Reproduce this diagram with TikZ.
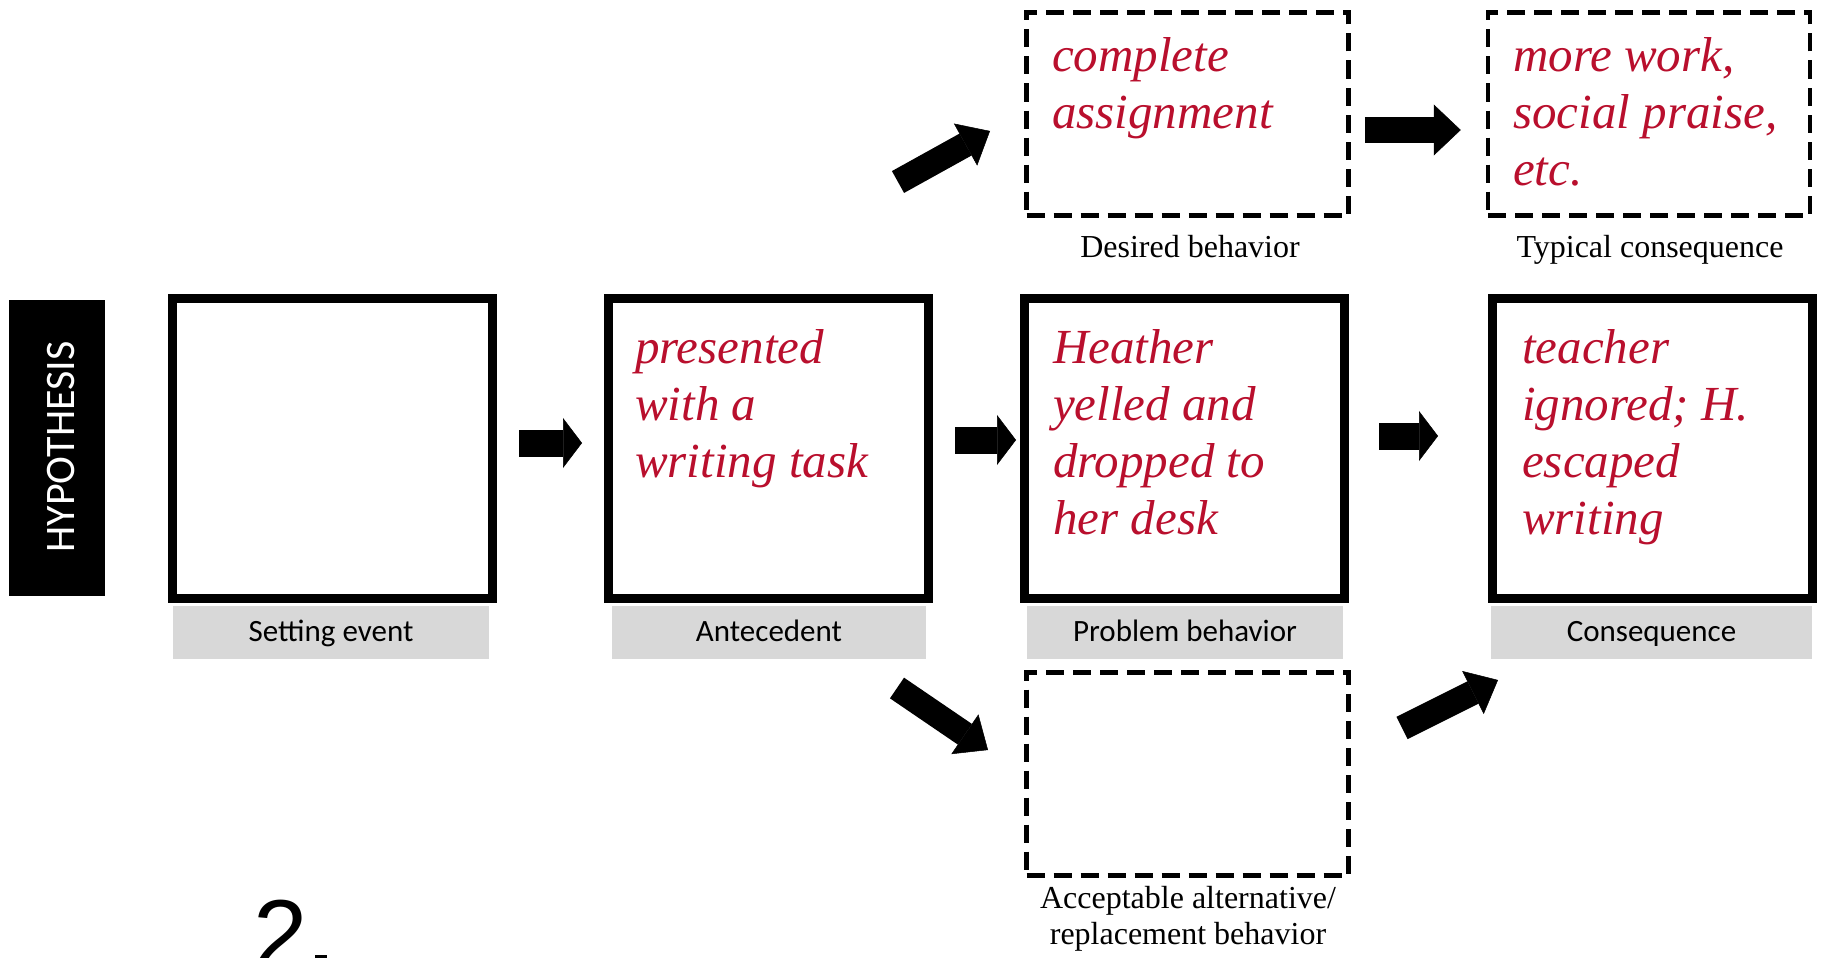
\documentclass[tikz,border=0pt]{standalone}
\usepackage{fontspec}
\setmainfont{Liberation Serif}
\newfontfamily\labelfont{Carlito}
\newfontfamily\digitfont{Liberation Sans}
\usetikzlibrary{arrows.meta}
\definecolor{notered}{RGB}{185,15,45}
\definecolor{labelgray}{RGB}{216,216,216}

\begin{document}
\begin{tikzpicture}[x=1pt,y=-1pt,
  mainbox/.style={draw=black, line width=9pt, minimum width=320pt, minimum height=300pt, inner sep=0pt},
  optbox/.style={draw=black, line width=4.5pt, dash pattern=on 18pt off 9pt, minimum width=322pt, minimum height=203pt, inner sep=0pt},
  entry/.style={anchor=north west, inner sep=0pt, align=left, text=notered, font=\itshape\fontsize{49}{57}\selectfont},
  tag/.style={fill=labelgray, inner sep=0pt, minimum height=53pt, font=\labelfont\fontsize{31}{36}\selectfont, text height=22pt, text depth=5pt},
  caption/.style={inner sep=0pt, font=\fontsize{32}{36}\selectfont, align=center},
  blk/.style={line width=27pt, -{Triangle[length=19pt, width=50pt, line width=0.5pt]}},
  bigblk/.style={line width=26pt, -{Triangle[length=27pt, width=51pt, line width=0.5pt]}},
  diagblk/.style={line width=25pt, -{Triangle[length=28pt, width=48pt, line width=0.5pt]}},
]
\clip (0,0) rectangle (1826,958);
\fill[white] (0,0) rectangle (1826,958);

% side banner
\fill[black] (9,300) rectangle (105,596);
\node[rotate=90, inner sep=0pt, text=white, font=\labelfont\fontsize{42}{48}\selectfont] (hyp) at (61.5,447) {HYPOTHESIS};

% main chain
\node[mainbox] (set)  at (332.5,448.5) {};
\node[mainbox] (ant)  at (768.5,448.5) {};
\node[mainbox] (prob) at (1184.5,448.5) {};
\node[mainbox] (cons) at (1652.5,448.5) {};

\node[entry] (antT)  at (635,329)  {presented\\with a\\writing task};
\node[entry] (probT) at (1053,329) {Heather\\yelled and\\dropped to\\her desk};
\node[entry] (consT) at (1522,329) {teacher\\ignored; H.\\escaped\\writing};

\node[tag, minimum width=316pt] (setL)  at (331,632.5)  {Setting event};
\node[tag, minimum width=314pt] (antL)  at (769,632.5)  {Antecedent};
\node[tag, minimum width=316pt] (probL) at (1185,632.5) {Problem behavior};
\node[tag, minimum width=321pt] (consL) at (1651.5,632.5) {Consequence};

% alternative paths
\node[optbox] (des) at (1187.5,114) {};
\node[optbox] (typ) at (1649,114) {};
\node[optbox] (alt) at (1187.5,774) {};

\node[entry] (desT) at (1052,37) {complete\\assignment};
\node[entry] (typT) at (1513,37) {more work,\\social praise,\\etc.};

\node[caption, anchor=base] (desL) at (1190,257) {Desired behavior};
\node[caption, anchor=base] (typL) at (1650,257) {Typical consequence};
\node[caption, anchor=north] (altL) at (1188,886) {Acceptable alternative/\\replacement behavior};

% connectors
\draw[blk, shorten <=22pt, shorten >=22pt] ([yshift=5.5pt]set.east) -- ([yshift=5.5pt]ant.west);
\draw[blk, shorten <=22pt, shorten >=4pt] ([yshift=8.5pt]ant.east) -- ([yshift=8.5pt]prob.west);
\draw[blk, shorten <=30pt, shorten >=50pt] ([yshift=12.5pt]prob.east) -- ([yshift=12.5pt]cons.west);
\draw[bigblk, shorten <=14pt, shorten >=25pt] ([yshift=-16pt]des.east) -- ([yshift=-16pt]typ.west);

\coordinate (up1) at (898,182);
\coordinate (up2) at (990,131);
\coordinate (dn1) at (897,688);
\coordinate (dn2) at (988,750);
\coordinate (rt1) at (1402,728);
\coordinate (rt2) at (1498,680);
\draw[diagblk] (up1) -- (up2);
\draw[diagblk] (dn1) -- (dn2);
\draw[diagblk] (rt1) -- (rt2);

% page number fragment
\node[anchor=base west, inner sep=0pt, font=\digitfont\fontsize{98}{110}\selectfont] (pg) at (253,968) {2};
\fill[black] (315,955) rectangle (327,958);
\end{tikzpicture}
\end{document}
